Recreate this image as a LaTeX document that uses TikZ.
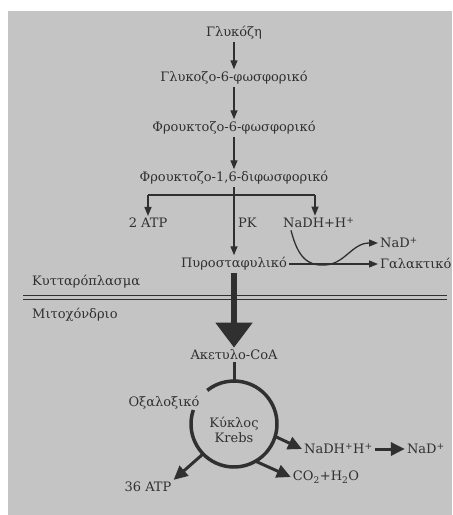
\documentclass[tikz,border=0pt]{standalone}
\usepackage{fontspec}
\setmainfont{DejaVu Serif}
\usetikzlibrary{calc,arrows.meta}
\definecolor{bggray}{RGB}{196,196,196}
\definecolor{ink}{RGB}{48,48,48}
\tikzset{
  every node/.style={text=ink,font=\fontsize{13}{15}\selectfont,inner sep=2pt},
  flow/.style={draw=ink,line width=1.3pt,-{Triangle[length=9pt,width=7pt]}},
  bigflow/.style={draw=ink,line width=5.5pt,-{Triangle[length=25pt,width=36pt]}},
  cycflow/.style={draw=ink,line width=3pt,-{Triangle[length=14pt,width=13pt]}},
}
\begin{document}
\begin{tikzpicture}[x=1pt,y=1pt]
	\useasboundingbox (0,0) rectangle (453,-515);
	\fill[bggray] (8,-11) rectangle (452,-515);
	
	\node (gl) at (234,-33) {Γλυκόζη};
	\node (g6p) at ($(gl)+(0,-45)$) {Γλυκοζο-6-φωσφορικό};
	\node (f6p) at ($(g6p)+(0,-50)$) {Φρουκτοζο-6-φωσφορικό};
	\node (f16) at ($(f6p)+(0,-50)$) {Φρουκτοζο-1,6-διφωσφορικό};
	
	\draw[flow] (gl)--(g6p);
	\draw[flow] (g6p)--(f6p);
	\draw[flow] (f6p)--(f16);
	
	\coordinate (br) at ($(f16)+(0,-17)$);
	\coordinate (bl) at ($(br)+(-86,0)$);
	\coordinate (bri) at ($(br)+(81,0)$);
	
	\node (atp2) at ($(bl)+(0,-28)$) {2 ATP};
	\node[anchor=west] (pk) at ($(br)+(2,-28)$) {PK};
	\node[anchor=west] (nadh) at ($(bri)+(-34,-28)$) {NaDH+H\textsuperscript{+}};
	\node (pyr) at ($(f16)+(0,-86)$) {Πυροσταφυλικό};
	
	\draw[flow] (f16)--(pyr);
	\draw[ink,line width=1.3pt] (bl)--(bri);
	\draw[flow] (bl)--(atp2);
	\draw[flow] (bri)--(bri |- nadh.north);
	
	\node[anchor=west] (lac) at ($(pyr)+(144,0)$) {Γαλακτικό};
	\node[anchor=west] (nad) at ($(lac.west)+(0,21)$) {NaD\textsuperscript{+}};
	\coordinate (cv) at (325,-265);
	
	\draw[flow] (pyr)--(lac);
	\draw[flow] ($(nadh.south west)+(10,0)$) .. controls (298,-258) and (308,-266) .. (cv) .. controls (345,-264) and (352,-243) .. (nad.west);
	
	%compartments
	\node[anchor=west] (cyto) at (30,-282) {Κυτταρόπλασμα};
	\node[anchor=west] (mito) at (30,-315) {Μιτοχόνδριο};
	\draw[ink,line width=1pt] (23,-295)--(447,-295);
	\draw[ink,line width=1pt] (23,-299.5)--(447,-299.5);
	
	\node (acoa) at ($(pyr)+(0,-91)$) {Ακετυλο-CoA};
	\draw[bigflow] (pyr)--(acoa);
	
	%krebs cycle
	\coordinate (kc) at ($(acoa)+(0,-69)$);
	\coordinate (ktop) at ($(kc)+(0,43)$);
	\draw[ink,line width=3pt] (acoa)--(ktop);
	\draw[ink,line width=3.5pt] (kc) ++(161:43) arc[start angle=161,end angle=488.5,radius=43];
	
	\node (oxa) at ($(kc)+(-70,21)$) {Οξαλοξικό};
	\node[align=center] (krebs) at ($(kc)+(0,-6)$) {Κύκλος\\Krebs};
	\node[anchor=west] (nadh2) at ($(kc)+(68,-25)$) {NaDH\textsuperscript{+}H\textsuperscript{+}};
	\node[anchor=west] (nad2) at ($(nadh2.east)+(30,0)$) {NaD\textsuperscript{+}};
	\node (co2) at ($(kc)+(92,-53)$) {CO\textsubscript{2}+H\textsubscript{2}O};
	\node (atp36) at ($(kc)+(-86,-63)$) {36 ATP};
	
	\coordinate (k1) at ($(kc)+(-17:44)$);
	\coordinate (k2) at ($(kc)+(-59:44)$);
	\coordinate (k3) at ($(kc)+(-136:44)$);
	
	\draw[cycflow] (k1)--(nadh2.west);
	\draw[cycflow] (nadh2)--(nad2);
	\draw[cycflow] (k2)--(co2.west);
	\draw[cycflow] (k3)--(atp36.north east);
\end{tikzpicture}
\end{document}
